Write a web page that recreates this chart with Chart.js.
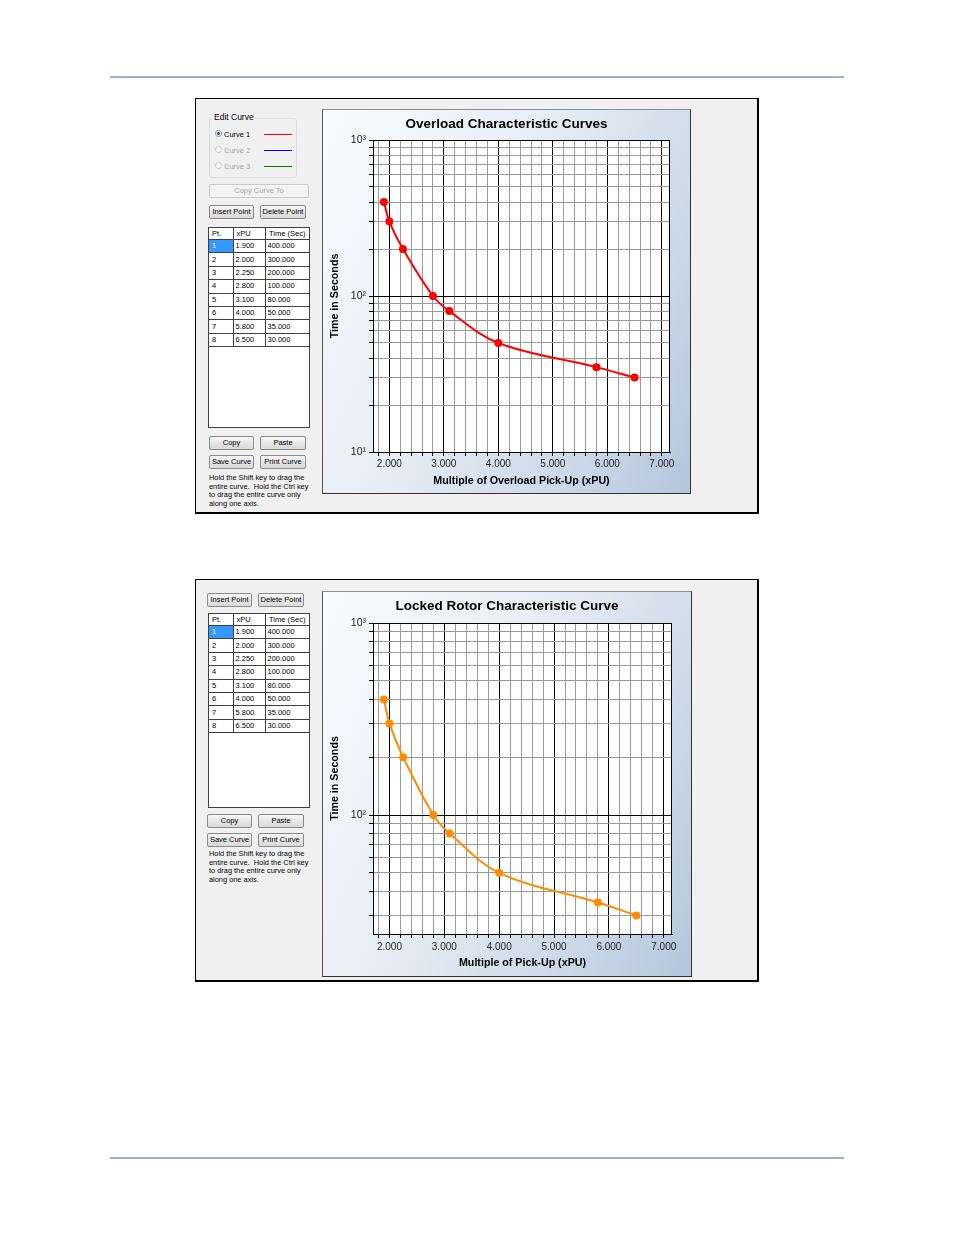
<!DOCTYPE html>
<html>
<head>
<meta charset="utf-8">
<title>Overload / Locked Rotor Characteristic Curves</title>
<script src="https://cdn.jsdelivr.net/npm/chart.js@4.4.1/dist/chart.umd.min.js"></script>
<style>
  body { margin: 0; background: #fff; font-family: "Liberation Sans", Arial, sans-serif; }
  #page { position: relative; width: 954px; height: 1235px; overflow: hidden; }
  .rule { position: absolute; left: 110px; width: 734px; height: 2px; background: #95b3d7; }
  .shot { position: absolute; left: 195px; width: 561px; background: #f0f0f0; border: 1px solid #000; border-right-width: 2px; border-bottom-width: 2px; }
  .btn { position: absolute; height: 14px; box-sizing: border-box; border: 1px solid #8a8a8a; border-radius: 2px;
         background: linear-gradient(#f8f8f8, #e6e6e6 50%, #d9d9d9); font-size: 7.5px; line-height: 12px;
         text-align: center; color: #000; white-space: nowrap; }
  .btn.off { color: #a6a6a6; border-color: #cacaca; background: #f3f3f3; }
  .group { position: absolute; border: 1px solid #d6dde3; border-radius: 3px; box-sizing: border-box; }
  .gtitle { position: absolute; font-size: 8.5px; line-height: 10px; background: #f0f0f0; padding: 0 1px; }
  .radio { position: absolute; width: 7px; height: 7px; border-radius: 50%; border: 1px solid #8f8f8f; background: #fff; box-sizing: border-box; }
  .radio.on::after { content: ''; position: absolute; left: 1px; top: 1px; width: 3px; height: 3px; border-radius: 50%; background: #1c4a80; }
  .rlabel { position: absolute; font-size: 7.5px; line-height: 9px; white-space: nowrap; }
  .rlabel.off { color: #a6a6a6; }
  .swatch { position: absolute; width: 28px; height: 1px; }
  .grid { position: absolute; width: 102px; box-sizing: border-box; border: 1px solid #404040; background: #fff; overflow: hidden; }
  .grid table { border-collapse: collapse; table-layout: fixed; width: 100px; font-size: 7.5px; }
  .grid th, .grid td { border: 1px solid #404040; padding: 0 0 0 3px; text-align: left; font-weight: normal; white-space: nowrap; overflow: hidden; color: #000; }
  .grid th { height: 11px; line-height: 11px; border-top: none; }
  .grid th.c { text-align: center; padding: 0; }
  .grid td { height: 12.4px; line-height: 12px; }
  .grid td.v { padding-left: 2px; }
  .grid tr > *:first-child { border-left: none; }
  .grid tr > *:last-child { border-right: none; }
  .grid td.sel { background: #3399ff; color: #fff; }
  .help { position: absolute; font-size: 7.4px; line-height: 8.5px; white-space: nowrap; color: #000; }
  .panel { position: absolute; border: 1px solid #333; border-top-color: #8c8c8c; border-left-color: #555;
           background: linear-gradient(115deg, #fafbfd 0%, #e8eef5 40%, #cfdbe9 72%, #b4c6dd 100%); }
  .panel canvas { position: absolute; left: 0; top: 0; }
</style>
</head>
<body>
<div id="page">
  <div class="rule" style="top:76px"></div>

  <!-- Captura 1: curvas de sobrecarga -->
  <div class="shot" style="top:98px;height:413px"></div>

  <div class="group" style="left:209px;top:118px;width:88px;height:60px"></div>
  <div class="gtitle" style="left:213px;top:112px">Edit Curve</div>
  <div class="radio on" style="left:215px;top:130px"></div>
  <div class="rlabel" style="left:224px;top:130px">Curve 1</div>
  <div class="swatch" style="left:264px;top:134px;background:#ff0000"></div>
  <div class="radio" style="left:215px;top:146px;border-color:#c4c4c4"></div>
  <div class="rlabel off" style="left:224px;top:146px">Curve 2</div>
  <div class="swatch" style="left:264px;top:150px;background:#0000ff"></div>
  <div class="radio" style="left:215px;top:162px;border-color:#c4c4c4"></div>
  <div class="rlabel off" style="left:224px;top:162px">Curve 3</div>
  <div class="swatch" style="left:264px;top:166px;background:#008000"></div>

  <div class="btn off" style="left:209px;top:184px;width:100px">Copy Curve To</div>
  <div class="btn" style="left:209px;top:205px;width:45px">Insert Point</div>
  <div class="btn" style="left:260px;top:205px;width:46px">Delete Point</div>

  <div class="grid" style="left:208px;top:227px;height:201px">
    <table>
      <colgroup><col style="width:24px"><col style="width:32px"><col style="width:44px"></colgroup>
      <thead><tr><th>Pt.</th><th>xPU</th><th class="c">Time (Sec)</th></tr></thead>
      <tbody id="rows1"></tbody>
    </table>
  </div>

  <div class="btn" style="left:209px;top:436px;width:45px">Copy</div>
  <div class="btn" style="left:260px;top:436px;width:46px">Paste</div>
  <div class="btn" style="left:209px;top:455px;width:45px">Save Curve</div>
  <div class="btn" style="left:260px;top:455px;width:46px">Print Curve</div>
  <div class="help" style="left:209px;top:474px">Hold the Shift key to drag the<br>entire curve.&nbsp; Hold the Ctrl key<br>to drag the entire curve only<br>along one axis.</div>

  <div class="panel" style="left:322px;top:109px;width:367px;height:383px">
    <canvas id="chartOverload" width="367" height="383"></canvas>
  </div>

  <!-- Captura 2: curva de rotor bloqueado -->
  <div class="shot" style="top:579px;height:400px"></div>

  <div class="btn" style="left:207px;top:593px;width:45px">Insert Point</div>
  <div class="btn" style="left:258px;top:593px;width:46px">Delete Point</div>

  <div class="grid" style="left:208px;top:613px;height:195px">
    <table>
      <colgroup><col style="width:24px"><col style="width:32px"><col style="width:44px"></colgroup>
      <thead><tr><th>Pt.</th><th>xPU</th><th class="c">Time (Sec)</th></tr></thead>
      <tbody id="rows2"></tbody>
    </table>
  </div>

  <div class="btn" style="left:207px;top:814px;width:45px">Copy</div>
  <div class="btn" style="left:258px;top:814px;width:46px">Paste</div>
  <div class="btn" style="left:207px;top:833px;width:45px">Save Curve</div>
  <div class="btn" style="left:258px;top:833px;width:46px">Print Curve</div>
  <div class="help" style="left:209px;top:850px">Hold the Shift key to drag the<br>entire curve.&nbsp; Hold the Ctrl key<br>to drag the entire curve only<br>along one axis.</div>

  <div class="panel" style="left:322px;top:591px;width:368px;height:384px">
    <canvas id="chartLockedRotor" width="368" height="384"></canvas>
  </div>

  <div class="rule" style="top:1157px"></div>
</div>

<script>
// Datos de la curva (los mismos puntos en ambas tablas)
var xPU = [1.9, 2.0, 2.25, 2.8, 3.1, 4.0, 5.8, 6.5];
var timeSec = [400, 300, 200, 100, 80, 50, 35, 30];

// Etiquetas de los ejes
var xTickValues = [2, 3, 4, 5, 6, 7];
var xTickLabels = ['2.000', '3.000', '4.000', '5.000', '6.000', '7.000'];
var yTickValues = [10, 100, 1000];
var yTickLabels = ['10\u00B9', '10\u00B2', '10\u00B3'];

var FONT = '"Liberation Sans", Arial, sans-serif';

// Llena la tabla de puntos.
function fillTable(tbodyId) {
    var tbody = document.getElementById(tbodyId);
    for (var i = 0; i < xPU.length; i++) {
        var tr = document.createElement('tr');
        tr.innerHTML = '<td' + (i === 0 ? ' class="sel"' : '') + '>' + (i + 1) + '</td>' +
            '<td class="v">' + xPU[i].toFixed(3) + '</td>' +
            '<td class="v">' + timeSec[i].toFixed(3) + '</td>';
        tbody.appendChild(tr);
    }
}

// Fondo blanco y marco negro del área de la gráfica.
var plotFrame = {
    id: 'plotFrame',
    beforeDraw: function (chart) {
        var a = chart.chartArea;
        var c = chart.ctx;
        c.save();
        c.fillStyle = '#fff';
        c.fillRect(a.left, a.top, a.right - a.left, a.bottom - a.top);
        c.restore();
    },
    beforeDatasetsDraw: function (chart) {
        var a = chart.chartArea;
        var c = chart.ctx;
        c.save();
        c.strokeStyle = '#000';
        c.lineWidth = 1;
        c.strokeRect(Math.round(a.left) + 0.5, Math.round(a.top) + 0.5,
            Math.round(a.right - a.left) - 1, Math.round(a.bottom - a.top));
        c.restore();
    }
};

function isWhole(v) {
    return Math.abs(v - Math.round(v)) < 1e-6;
}

function crearGrafica(canvasId, cfg) {
    var points = [];
    for (var i = 0; i < xPU.length; i++) {
        points.push({ x: xPU[i], y: timeSec[i] });
    }

    return new Chart(document.getElementById(canvasId).getContext('2d'), {
        type: 'line',
        data: {
            datasets: [{
                data: points,
                borderColor: cfg.color,
                backgroundColor: cfg.color,
                borderWidth: 2,
                pointRadius: 3,
                pointHoverRadius: 3,
                tension: 0.35,
                fill: false
            }]
        },
        options: {
            responsive: false,
            animation: false,
            devicePixelRatio: 1,
            layout: { padding: 0 },
            plugins: {
                legend: { display: false },
                tooltip: { enabled: false },
                title: {
                    display: true,
                    text: cfg.title,
                    color: '#000',
                    font: { family: FONT, size: 13.5, weight: 'bold' },
                    padding: { top: 6.4, bottom: cfg.titleGap }
                }
            },
            scales: {
                x: {
                    type: 'linear',
                    min: 1.7,
                    max: 7.15,
                    afterBuildTicks: function (scale) {
                        var t = [];
                        for (var k = 18; k <= 70; k += 2) t.push({ value: k / 10 });
                        scale.ticks = t;
                    },
                    afterFit: function (scale) { scale.height = cfg.xHeight; },
                    ticks: {
                        autoSkip: false,
                        maxRotation: 0,
                        padding: cfg.xTickPad,
                        color: '#222',
                        font: { family: FONT, size: 10 },
                        callback: function (value) {
                            if (!isWhole(value)) return '';
                            var idx = xTickValues.indexOf(Math.round(value));
                            return idx >= 0 ? xTickLabels[idx] : '';
                        }
                    },
                    grid: {
                        color: function (ctx) {
                            return ctx.tick && isWhole(ctx.tick.value) ? '#000' : '#9a9a9a';
                        },
                        tickColor: '#000',
                        tickLength: 4
                    },
                    border: { display: true, color: '#000' },
                    title: {
                        display: true,
                        text: cfg.xTitle,
                        color: '#000',
                        font: { family: FONT, size: 10.7, weight: 'bold' },
                        padding: { top: 0, bottom: cfg.xTitlePad }
                    }
                },
                y: {
                    type: 'logarithmic',
                    min: cfg.yMin,
                    max: 1000,
                    afterBuildTicks: function (scale) {
                        var t = [];
                        for (var d = 10; d < 1000; d *= 10) {
                            for (var m = 1; m <= 9; m++) {
                                if (m * d >= cfg.yMin) t.push({ value: m * d });
                            }
                        }
                        t.push({ value: 1000 });
                        scale.ticks = t;
                    },
                    afterFit: function (scale) { scale.width = 50; },
                    ticks: {
                        autoSkip: false,
                        padding: 3,
                        color: '#222',
                        font: { family: FONT, size: 10.5 },
                        callback: function (value) {
                            var idx = yTickValues.indexOf(value);
                            return idx >= 0 ? yTickLabels[idx] : '';
                        }
                    },
                    grid: {
                        color: function (ctx) {
                            return ctx.tick && yTickValues.indexOf(ctx.tick.value) >= 0 ? '#000' : '#9a9a9a';
                        },
                        tickColor: '#000',
                        tickLength: 4
                    },
                    border: { display: true, color: '#000' },
                    title: {
                        display: true,
                        text: 'Time in Seconds',
                        color: '#000',
                        font: { family: FONT, size: 10.7, weight: 'bold' },
                        padding: { top: 5.6, bottom: 0 }
                    }
                },
                // eje vacío a la derecha: sólo reserva el margen derecho del área
                margen: {
                    type: 'linear',
                    position: 'right',
                    display: true,
                    afterFit: function (scale) { scale.width = cfg.rightGap; },
                    ticks: { display: false },
                    grid: { display: false, drawTicks: false },
                    border: { display: false },
                    title: { display: false }
                }
            }
        },
        plugins: [plotFrame]
    });
}

fillTable('rows1');
fillTable('rows2');

crearGrafica('chartOverload', {
    title: 'Overload Characteristic Curves',
    xTitle: 'Multiple of Overload Pick-Up (xPU)',
    color: '#ff0000',
    yMin: 10,
    rightGap: 20,
    titleGap: 7.4,
    xHeight: 41,
    xTickPad: 2,
    xTitlePad: 5.6
});

crearGrafica('chartLockedRotor', {
    title: 'Locked Rotor Characteristic Curve',
    xTitle: 'Multiple of Pick-Up (xPU)',
    color: '#ff8c00',
    yMin: 24,
    rightGap: 19,
    titleGap: 8.4,
    xHeight: 42,
    xTickPad: 3,
    xTitlePad: 6.9
});
</script>
</body>
</html>
